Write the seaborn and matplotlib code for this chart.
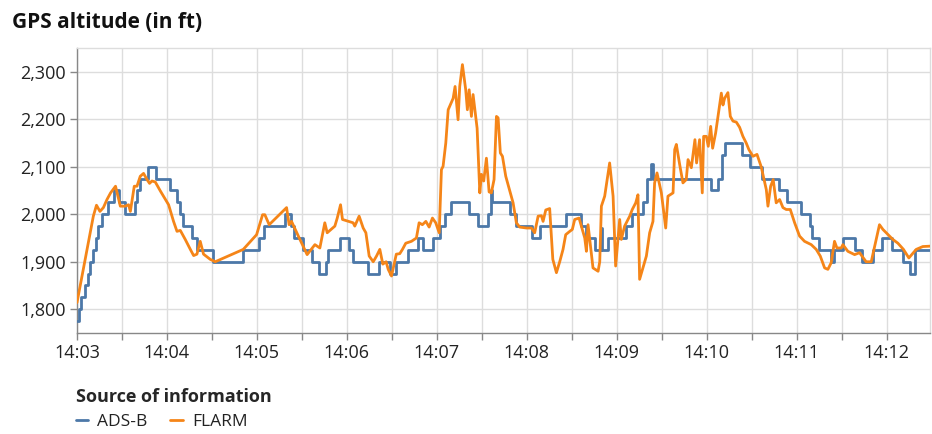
import matplotlib
matplotlib.use("Agg")
import matplotlib.pyplot as plt
from matplotlib.lines import Line2D
from matplotlib.ticker import FuncFormatter, MultipleLocator
import seaborn as sns
import pandas as pd

# ---- data (seconds after 14:03:00, altitude in ft) ----
adsb_t = [0, 1.3, 3, 5.3, 7.5, 9, 11, 12.7, 14, 16.4, 21, 25, 28, 32, 38.7, 40, 42, 47.3,
          52.7, 62, 66.7, 69, 71, 76.7, 80, 90.7, 110.5, 121.5, 124.7, 138.7, 142.5, 144.7,
          150.5, 157, 161.5, 166, 167.5, 175.3, 181.5, 184, 194, 201.3, 209, 213, 220.9,
          227.5, 230.5, 237.5, 242, 245.3, 249.8, 261.5, 267.5, 274.2, 276, 277, 288.7,
          292.7, 303.8, 309, 326, 336.5, 339.8, 345.3, 349.5, 350.5, 354.2, 366, 370.5,
          377.5, 380, 383, 384, 422.7, 427.5, 430, 432, 443.8, 448.7, 457, 468, 473.5, 483,
          488.7, 490, 495, 503, 505, 510.9, 518.7, 523.8, 530.9, 537, 543.8, 551.3, 555.8,
          559.3, 570]
adsb_v = [1775, 1800, 1825, 1850, 1875, 1900, 1925, 1950, 1975, 2000, 2025, 2050, 2025, 2000,
          2025, 2050, 2075, 2100, 2075, 2050, 2025, 2000, 1975, 1950, 1925, 1900, 1925, 1950,
          1975, 2000, 1975, 1950, 1925, 1900, 1875, 1900, 1925, 1950, 1925, 1900, 1875, 1900,
          1875, 1900, 1925, 1950, 1925, 1950, 1975, 2000, 2025, 2000, 1975, 2000, 2050, 2025,
          2000, 1975, 1950, 1975, 2000, 1975, 1950, 1925, 1970, 1925, 1950, 1975, 2000, 2025,
          2075, 2105, 2075, 2050, 2075, 2125, 2150, 2125, 2100, 2075, 2050, 2025, 2000, 1975,
          1950, 1925, 1900, 1925, 1950, 1925, 1900, 1925, 1950, 1925, 1900, 1875, 1925, 1925]

flarm_t = [0, 10.9, 13, 15.3, 17.6, 20, 22.4, 25.7, 27.1, 28.9, 32.2, 34.4, 35.6, 38.2, 40,
           42.2, 44.4, 46.7, 48.4, 50, 52.2, 55.6, 61.1, 64.4, 66.7, 68.9, 72.2, 75.6, 77.8,
           80, 82.2, 84.4, 88.9, 92.2, 110.9, 119.8, 123.8, 125.3, 128.2, 139.8, 141.5, 143.1,
           148.7, 153.5, 158.7, 162, 165.3, 166.9, 172, 173.6, 175.8, 177.1, 184.2, 185.3,
           188.2, 190.9, 192.7, 194.9, 197.6, 199.8, 202, 204, 206.2, 207.6, 209.8, 213,
           215.3, 217.1, 219.3, 223.1, 226.4, 228.2, 230.4, 232.7, 234.9, 237.1, 239.3, 241.6,
           243.1, 244.2, 246, 247.6, 250.9, 252.2, 254.2, 255.3, 257.1, 259.3, 260.4, 261.6,
           263.1, 264.2, 266.9, 268.7, 269.8, 271.3, 273.1, 274.9, 276.4, 278.2, 279.8, 280.9,
           282.4, 283.8, 286, 290.9, 293.1, 295.3, 299.8, 303.1, 305.3, 307.6, 309.8, 310.9,
           312.7, 315.3, 317.4, 319.8, 322, 324.2, 326, 328.7, 330.4, 332, 334.9, 338.7,
           339.8, 340.9, 344.2, 347.6, 348.7, 349.8, 352, 355.3, 357.6, 359.3, 362, 363.1,
           365.3, 368.7, 370.4, 372.7, 374.2, 375.3, 379.8, 382, 384.2, 385.3, 386.9, 389.8,
           392.7, 394.2, 397.6, 398.7, 399.8, 402, 404.2, 406.4, 407.6, 409.8, 412.2, 413.3,
           415.3, 417.1, 418, 419.8, 421.1, 422.7, 424, 426, 427.6, 429.8, 430.9, 432, 434.2,
           435.8, 437.6, 439.8, 442, 444.2, 446.4, 448.2, 450.9, 453.6, 456.4, 459.8, 460.9,
           462.7, 464.4, 466.4, 468.7, 470.9, 473.1, 475.8, 478.7, 482, 485.3, 489.8, 493.1,
           495.8, 498.7, 500.9, 503.1, 505.3, 506.9, 509.8, 510.9, 514.2, 518.7, 522, 526.4,
           529.8, 533.1, 535.3, 537.6, 539.8, 544.2, 547.6, 551.3, 554.9, 559.8, 564.2, 570]
flarm_v = [1814, 1996, 2019, 2006, 2014, 2031, 2045, 2059, 2041, 2017, 2017, 2020, 2006, 2059,
           2059, 2080, 2086, 2073, 2065, 2070, 2068, 2049, 2020, 1985, 1964, 1966, 1947, 1926,
           1913, 1916, 1943, 1916, 1905, 1900, 1926, 1957, 1999, 1999, 1978, 2014, 1978, 1985,
           1947, 1915, 1936, 1929, 1982, 1961, 1975, 1992, 2020, 1989, 1982, 1975, 1996, 1971,
           1961, 1912, 1900, 1912, 1926, 1895, 1900, 1884, 1870, 1916, 1917, 1926, 1939, 1943,
           1950, 1982, 1978, 1985, 1973, 1992, 1982, 1961, 2094, 2101, 2150, 2220, 2244, 2269,
           2199, 2269, 2315, 2262, 2220, 2262, 2206, 2252, 2181, 2045, 2084, 2070, 2118, 2047,
           2045, 2073, 2206, 2203, 2129, 2122, 2080, 2024, 1982, 1973, 1971, 1971, 1961, 1996,
           1997, 1985, 2009, 2012, 1905, 1877, 1900, 1926, 1957, 1964, 1968, 1989, 1992, 1950,
           1922, 1978, 1887, 1880, 1900, 2017, 2038, 2108, 2038, 1891, 1989, 1947, 1975, 1996,
           2010, 2024, 2041, 1863, 1912, 1961, 1985, 2066, 2087, 2045, 1971, 2038, 2045, 2136,
           2147, 2105, 2066, 2073, 2115, 2098, 2157, 2108, 2157, 2045, 2164, 2164, 2143, 2185,
           2139, 2171, 2206, 2255, 2230, 2244, 2256, 2206, 2196, 2194, 2183, 2164, 2150, 2136,
           2122, 2126, 2100, 2052, 2017, 2059, 2073, 2024, 2031, 2014, 2010, 2010, 1982, 1954,
           1943, 1936, 1926, 1912, 1887, 1884, 1898, 1943, 1929, 1929, 1936, 1922, 1915, 1919,
           1900, 1900, 1947, 1978, 1968, 1961, 1947, 1939, 1926, 1908, 1926, 1932, 1933]

series_names = ["ADS-B", "FLARM"]
series_colors = ["#4c78a8", "#f58518"]
x_tick_labels = ["14:03", "14:04", "14:05", "14:06", "14:07", "14:08", "14:09", "14:10",
                 "14:11", "14:12"]

# ---- style ----
sns.set_style("white")
plt.rcParams["font.family"] = ["Open Sans", "DejaVu Sans"]

fig = plt.figure(figsize=(9.32, 4.34), dpi=100)
ax = fig.add_axes([77 / 932, 101 / 434, 853 / 932, 285 / 434])

adsb = pd.DataFrame({"t": adsb_t, "alt": adsb_v})
flarm = pd.DataFrame({"t": flarm_t, "alt": flarm_v})

sns.lineplot(data=adsb, x="t", y="alt", ax=ax, color=series_colors[0], lw=2,
             drawstyle="steps-post", estimator=None, zorder=3)
sns.lineplot(data=flarm, x="t", y="alt", ax=ax, color=series_colors[1], lw=2,
             estimator=None, zorder=4)

ax.set_xlim(0, 569)
ax.set_ylim(1750, 2350)

ax.xaxis.set_major_locator(MultipleLocator(60))
ax.xaxis.set_minor_locator(MultipleLocator(30))
ax.xaxis.set_major_formatter(FuncFormatter(
    lambda v, p: x_tick_labels[int(round(v / 60))] if 0 <= int(round(v / 60)) < len(x_tick_labels) else ""))
ax.set_yticks([1800, 1900, 2000, 2100, 2200, 2300])
ax.yaxis.set_major_formatter(FuncFormatter(lambda v, p: f"{int(v):,}"))

ax.grid(True, which="both", axis="x", color="#dddddd", lw=1)
ax.grid(True, which="major", axis="y", color="#dddddd", lw=1)
ax.set_axisbelow(True)

for s in ["top", "right"]:
    ax.spines[s].set_color("#dddddd")
    ax.spines[s].set_linewidth(1)
for s in ["left", "bottom"]:
    ax.spines[s].set_color("#888888")
    ax.spines[s].set_linewidth(1)

ax.tick_params(axis="both", which="both", direction="out", length=5, width=1,
               color="#888888", labelsize=13, labelcolor="#222222", pad=3,
               bottom=True, left=True)
ax.set_xlabel("")
ax.set_ylabel("")

fig.text(12 / 932, 1 - 22 / 434, "GPS altitude (in ft)", fontsize=15, fontweight="bold",
         color="#111111", va="center", ha="left")

handles = [Line2D([0], [0], color=c, lw=2) for c in series_colors]
leg = fig.legend(handles, series_names, title="Source of information", loc="upper left",
                 bbox_to_anchor=(74 / 932, 1 - 386 / 434), ncol=2, frameon=False,
                 fontsize=12.5, title_fontproperties={"weight": "bold", "size": 13},
                 alignment="left", handlelength=0.7, handletextpad=0.55, columnspacing=1.3,
                 borderpad=0.1, labelspacing=0.2, borderaxespad=0)
leg._legend_box.sep = 6
for t in leg.get_texts():
    t.set_color("#222222")

fig.savefig("out.png", dpi=100)
